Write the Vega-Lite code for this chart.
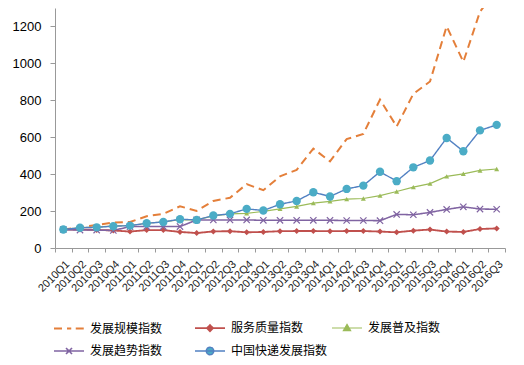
{
  "$schema": "https://vega.github.io/schema/vega-lite/v6.json",
  "autosize": "none",
  "width": 450,
  "height": 240,
  "padding": {"left": 55, "top": 8, "right": 19, "bottom": 117},
  "background": "white",
  "config": {"view": {"stroke": null}},
  "datasets": {
    "d": [
      {"q":"2010Q1","s":"发展规模指数","v":100},{"q":"2010Q2","s":"发展规模指数","v":113},{"q":"2010Q3","s":"发展规模指数","v":124},{"q":"2010Q4","s":"发展规模指数","v":138},{"q":"2011Q1","s":"发展规模指数","v":141},{"q":"2011Q2","s":"发展规模指数","v":172},{"q":"2011Q3","s":"发展规模指数","v":185},{"q":"2011Q4","s":"发展规模指数","v":226},{"q":"2012Q1","s":"发展规模指数","v":201},{"q":"2012Q2","s":"发展规模指数","v":255},{"q":"2012Q3","s":"发展规模指数","v":272},{"q":"2012Q4","s":"发展规模指数","v":346},{"q":"2013Q1","s":"发展规模指数","v":313},{"q":"2013Q2","s":"发展规模指数","v":388},{"q":"2013Q3","s":"发展规模指数","v":423},{"q":"2013Q4","s":"发展规模指数","v":538},{"q":"2014Q1","s":"发展规模指数","v":469},{"q":"2014Q2","s":"发展规模指数","v":590},{"q":"2014Q3","s":"发展规模指数","v":618},{"q":"2014Q4","s":"发展规模指数","v":804},{"q":"2015Q1","s":"发展规模指数","v":658},{"q":"2015Q2","s":"发展规模指数","v":835},{"q":"2015Q3","s":"发展规模指数","v":902},{"q":"2015Q4","s":"发展规模指数","v":1201},{"q":"2016Q1","s":"发展规模指数","v":1008},{"q":"2016Q2","s":"发展规模指数","v":1280},{"q":"2016Q3","s":"发展规模指数","v":1400},
      {"q":"2010Q1","s":"服务质量指数","v":100},{"q":"2010Q2","s":"服务质量指数","v":100},{"q":"2010Q3","s":"服务质量指数","v":98},{"q":"2010Q4","s":"服务质量指数","v":95},{"q":"2011Q1","s":"服务质量指数","v":89},{"q":"2011Q2","s":"服务质量指数","v":97},{"q":"2011Q3","s":"服务质量指数","v":97},{"q":"2011Q4","s":"服务质量指数","v":87},{"q":"2012Q1","s":"服务质量指数","v":81},{"q":"2012Q2","s":"服务质量指数","v":90},{"q":"2012Q3","s":"服务质量指数","v":91},{"q":"2012Q4","s":"服务质量指数","v":85},{"q":"2013Q1","s":"服务质量指数","v":87},{"q":"2013Q2","s":"服务质量指数","v":91},{"q":"2013Q3","s":"服务质量指数","v":92},{"q":"2013Q4","s":"服务质量指数","v":92},{"q":"2014Q1","s":"服务质量指数","v":91},{"q":"2014Q2","s":"服务质量指数","v":92},{"q":"2014Q3","s":"服务质量指数","v":92},{"q":"2014Q4","s":"服务质量指数","v":89},{"q":"2015Q1","s":"服务质量指数","v":85},{"q":"2015Q2","s":"服务质量指数","v":94},{"q":"2015Q3","s":"服务质量指数","v":100},{"q":"2015Q4","s":"服务质量指数","v":89},{"q":"2016Q1","s":"服务质量指数","v":87},{"q":"2016Q2","s":"服务质量指数","v":103},{"q":"2016Q3","s":"服务质量指数","v":106},
      {"q":"2010Q1","s":"发展普及指数","v":100},{"q":"2010Q2","s":"发展普及指数","v":110},{"q":"2010Q3","s":"发展普及指数","v":113},{"q":"2010Q4","s":"发展普及指数","v":120},{"q":"2011Q1","s":"发展普及指数","v":122},{"q":"2011Q2","s":"发展普及指数","v":134},{"q":"2011Q3","s":"发展普及指数","v":141},{"q":"2011Q4","s":"发展普及指数","v":153},{"q":"2012Q1","s":"发展普及指数","v":152},{"q":"2012Q2","s":"发展普及指数","v":174},{"q":"2012Q3","s":"发展普及指数","v":185},{"q":"2012Q4","s":"发展普及指数","v":188},{"q":"2013Q1","s":"发展普及指数","v":198},{"q":"2013Q2","s":"发展普及指数","v":212},{"q":"2013Q3","s":"发展普及指数","v":225},{"q":"2013Q4","s":"发展普及指数","v":243},{"q":"2014Q1","s":"发展普及指数","v":253},{"q":"2014Q2","s":"发展普及指数","v":265},{"q":"2014Q3","s":"发展普及指数","v":268},{"q":"2014Q4","s":"发展普及指数","v":284},{"q":"2015Q1","s":"发展普及指数","v":306},{"q":"2015Q2","s":"发展普及指数","v":330},{"q":"2015Q3","s":"发展普及指数","v":349},{"q":"2015Q4","s":"发展普及指数","v":388},{"q":"2016Q1","s":"发展普及指数","v":402},{"q":"2016Q2","s":"发展普及指数","v":420},{"q":"2016Q3","s":"发展普及指数","v":428},
      {"q":"2010Q1","s":"发展趋势指数","v":100},{"q":"2010Q2","s":"发展趋势指数","v":97},{"q":"2010Q3","s":"发展趋势指数","v":97},{"q":"2010Q4","s":"发展趋势指数","v":95},{"q":"2011Q1","s":"发展趋势指数","v":116},{"q":"2011Q2","s":"发展趋势指数","v":116},{"q":"2011Q3","s":"发展趋势指数","v":116},{"q":"2011Q4","s":"发展趋势指数","v":116},{"q":"2012Q1","s":"发展趋势指数","v":152},{"q":"2012Q2","s":"发展趋势指数","v":152},{"q":"2012Q3","s":"发展趋势指数","v":152},{"q":"2012Q4","s":"发展趋势指数","v":152},{"q":"2013Q1","s":"发展趋势指数","v":150},{"q":"2013Q2","s":"发展趋势指数","v":150},{"q":"2013Q3","s":"发展趋势指数","v":150},{"q":"2013Q4","s":"发展趋势指数","v":150},{"q":"2014Q1","s":"发展趋势指数","v":150},{"q":"2014Q2","s":"发展趋势指数","v":149},{"q":"2014Q3","s":"发展趋势指数","v":149},{"q":"2014Q4","s":"发展趋势指数","v":148},{"q":"2015Q1","s":"发展趋势指数","v":182},{"q":"2015Q2","s":"发展趋势指数","v":180},{"q":"2015Q3","s":"发展趋势指数","v":193},{"q":"2015Q4","s":"发展趋势指数","v":209},{"q":"2016Q1","s":"发展趋势指数","v":223},{"q":"2016Q2","s":"发展趋势指数","v":211},{"q":"2016Q3","s":"发展趋势指数","v":210},
      {"q":"2010Q1","s":"中国快递发展指数","v":100},{"q":"2010Q2","s":"中国快递发展指数","v":110},{"q":"2010Q3","s":"中国快递发展指数","v":112},{"q":"2010Q4","s":"中国快递发展指数","v":118},{"q":"2011Q1","s":"中国快递发展指数","v":121},{"q":"2011Q2","s":"中国快递发展指数","v":134},{"q":"2011Q3","s":"中国快递发展指数","v":141},{"q":"2011Q4","s":"中国快递发展指数","v":156},{"q":"2012Q1","s":"中国快递发展指数","v":152},{"q":"2012Q2","s":"中国快递发展指数","v":176},{"q":"2012Q3","s":"中国快递发展指数","v":185},{"q":"2012Q4","s":"中国快递发展指数","v":212},{"q":"2013Q1","s":"中国快递发展指数","v":203},{"q":"2013Q2","s":"中国快递发展指数","v":237},{"q":"2013Q3","s":"中国快递发展指数","v":255},{"q":"2013Q4","s":"中国快递发展指数","v":302},{"q":"2014Q1","s":"中国快递发展指数","v":279},{"q":"2014Q2","s":"中国快递发展指数","v":320},{"q":"2014Q3","s":"中国快递发展指数","v":338},{"q":"2014Q4","s":"中国快递发展指数","v":413},{"q":"2015Q1","s":"中国快递发展指数","v":362},{"q":"2015Q2","s":"中国快递发展指数","v":437},{"q":"2015Q3","s":"中国快递发展指数","v":474},{"q":"2015Q4","s":"中国快递发展指数","v":596},{"q":"2016Q1","s":"中国快递发展指数","v":524},{"q":"2016Q2","s":"中国快递发展指数","v":637},{"q":"2016Q3","s":"中国快递发展指数","v":667}
    ]
  },
  "data": {"name": "d"},
  "encoding": {
    "x": {
      "field": "q", "type": "ordinal", "sort": null,
      "scale": {"type": "band", "paddingInner": 0, "paddingOuter": 0},
      "axis": {"title": null, "labelAngle": -45, "labelFont": "Liberation Sans", "labelFontSize": 11, "labelColor": "#222", "domainColor": "#999", "tickColor": "#999", "tickSize": 4, "tickBand": "extent", "labelPadding": 6}
    },
    "y": {
      "field": "v", "type": "quantitative",
      "scale": {"domain": [0, 1300], "nice": false, "zero": true},
      "axis": {"title": null, "values": [0, 200, 400, 600, 800, 1000, 1200], "format": "d", "grid": false, "labelFont": "Liberation Sans", "labelFontSize": 13, "labelColor": "#000", "domainColor": "#999", "tickColor": "#999", "tickSize": 5, "labelPadding": 9}
    }
  },
  "layer": [
    {
      "transform": [{"filter": "datum.s === '发展普及指数'"}],
      "mark": {"type": "line", "color": "#9BBB59", "strokeWidth": 1.2},
      "encoding": {
        "opacity": {
          "field": "s", "type": "ordinal",
          "scale": {"domain": ["发展普及指数"], "range": [1, 1]},
          "legend": {
            "title": null, "orient": "none", "direction": "horizontal", "legendX": 276, "legendY": 304,
            "symbolSize": 900, "padding": 0, "labelOffset": 5,
            "symbolType": "M-1,0H1M0,-0.24L0.24,0.17L-0.24,0.17Z",
            "symbolFillColor": "#9BBB59", "symbolStrokeColor": "#9BBB59", "symbolStrokeWidth": 1.2,
            "labelFont": "Noto Sans CJK SC", "labelFontSize": 12, "labelColor": "#000",
            "encode": {
              "symbols": {
                "update": {
                  "shape": {"signal": "datum.value === '发展普及指数' ? 'M-1,0H1M0,-0.24L0.24,0.17L-0.24,0.17Z' : 'M-1,0H1M0,-0.24L0.24,0.17L-0.24,0.17Z'"},
                  "fill": {"signal": "datum.value === '发展普及指数' ? '#9BBB59' : '#9BBB59'"},
                  "stroke": {"signal": "datum.value === '发展普及指数' ? '#9BBB59' : '#9BBB59'"},
                  "strokeWidth": {"value": 1.2},
                  "opacity": {"value": 1}
                }
              }
            }
          }
        }
      }
    },
    {
      "transform": [{"filter": "datum.s !== '发展普及指数'"}],
      "mark": {"type": "line", "clip": true},
      "encoding": {
        "color": {
          "field": "s", "type": "nominal",
          "scale": {"domain": ["发展规模指数", "服务质量指数", "发展普及指数", "发展趋势指数", "中国快递发展指数"], "range": ["#E47F3A", "#C0504D", "#9BBB59", "#8064A2", "#5281C2"]},
          "legend": {
            "title": null, "orient": "none", "direction": "horizontal", "legendX": -2, "legendY": 304,
            "values": ["发展规模指数", "服务质量指数", "发展趋势指数", "中国快递发展指数"],
            "columns": 2, "columnPadding": 28, "rowPadding": -4,
            "symbolSize": 900, "padding": 0, "labelOffset": 5,
            "labelFont": "Noto Sans CJK SC", "labelFontSize": 12, "labelColor": "#000",
            "encode": {
              "symbols": {
                "update": {
                  "shape": {"signal": "datum.value === '发展规模指数' ? 'M-1,0H0.15M0.45,0H1' : datum.value === '服务质量指数' ? 'M-1,0H1M0,-0.2L0.2,0L0,0.2L-0.2,0Z' : datum.value === '发展趋势指数' ? 'M-1,0H1M-0.2,-0.2L0.2,0.2M-0.2,0.2L0.2,-0.2' : 'M-1,0H1M0.25,0A0.25,0.25,0,1,1,-0.25,0A0.25,0.25,0,1,1,0.25,0Z'"},
                  "fill": {"signal": "datum.value === '中国快递发展指数' ? '#4BACC6' : scale('color', datum.value)"},
                  "stroke": {"signal": "scale('color', datum.value)"},
                  "strokeWidth": {"signal": "datum.value === '中国快递发展指数' ? 3 : datum.value === '发展规模指数' ? 2 : 1.3"},
                  "opacity": {"value": 1}
                }
              }
            }
          }
        },
        "strokeDash": {
          "field": "s", "type": "nominal",
          "scale": {"domain": ["发展规模指数", "服务质量指数", "发展普及指数", "发展趋势指数", "中国快递发展指数"], "range": [[8, 5], [1, 0], [1, 0], [1, 0], [1, 0]]},
          "legend": null
        },
        "strokeWidth": {
          "field": "s", "type": "nominal",
          "scale": {"domain": ["发展规模指数", "服务质量指数", "发展普及指数", "发展趋势指数", "中国快递发展指数"], "range": [2, 1.4, 1.2, 1.3, 3]},
          "legend": null
        }
      }
    },
    {
      "transform": [{"filter": "datum.s === '服务质量指数'"}],
      "mark": {"type": "point", "shape": "diamond", "filled": true, "color": "#C0504D", "size": 36, "opacity": 1}
    },
    {
      "transform": [{"filter": "datum.s === '发展普及指数'"}],
      "mark": {"type": "point", "shape": "triangle-up", "filled": true, "color": "#9BBB59", "size": 25, "opacity": 1}
    },
    {
      "transform": [{"filter": "datum.s === '发展趋势指数'"}],
      "mark": {"type": "point", "shape": "M-1,-1L1,1M-1,1L1,-1", "filled": false, "stroke": "#8064A2", "strokeWidth": 1.2, "size": 40, "opacity": 1}
    },
    {
      "transform": [{"filter": "datum.s === '中国快递发展指数'"}],
      "mark": {"type": "point", "shape": "circle", "filled": true, "color": "#4BACC6", "size": 70, "opacity": 1}
    }
  ]
}
